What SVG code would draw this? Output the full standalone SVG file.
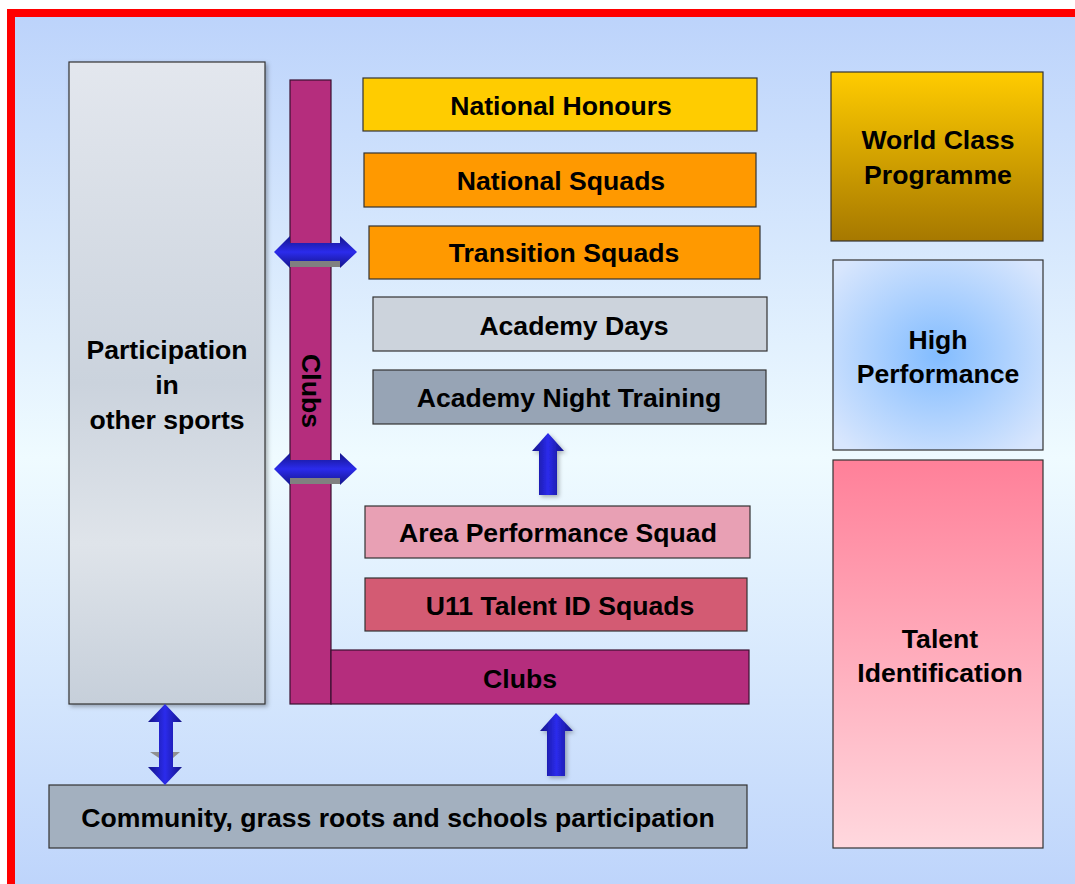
<svg xmlns="http://www.w3.org/2000/svg" width="1075" height="884" viewBox="0 0 1075 884">
<defs>
<linearGradient id="bg" x1="0" y1="0" x2="0" y2="1">
<stop offset="0" stop-color="#bcd3fb"/><stop offset="0.5" stop-color="#effbff"/><stop offset="1" stop-color="#bcd3fb"/>
</linearGradient>
<linearGradient id="part" x1="0" y1="0" x2="0" y2="1">
<stop offset="0" stop-color="#e3e7ee"/><stop offset="0.5" stop-color="#cbd3dd"/><stop offset="0.75" stop-color="#dfe4ea"/><stop offset="1" stop-color="#c6cfda"/>
</linearGradient>
<linearGradient id="wcp" x1="0" y1="0" x2="0" y2="1">
<stop offset="0" stop-color="#ffcc00"/><stop offset="1" stop-color="#a67800"/>
</linearGradient>
<radialGradient id="hp" cx="0.5" cy="0.5" r="0.65">
<stop offset="0" stop-color="#82bcff"/><stop offset="1" stop-color="#d8e6fd"/>
</radialGradient>
<linearGradient id="ti" x1="0" y1="0" x2="0" y2="1">
<stop offset="0" stop-color="#ff8099"/><stop offset="1" stop-color="#ffd8de"/>
</linearGradient>
<linearGradient id="arrH" x1="0" y1="0" x2="0" y2="1">
<stop offset="0" stop-color="#141488"/><stop offset="0.5" stop-color="#2b2bec"/><stop offset="1" stop-color="#141488"/>
</linearGradient>
<linearGradient id="arrV" x1="0" y1="0" x2="1" y2="0">
<stop offset="0" stop-color="#141488"/><stop offset="0.5" stop-color="#2b2bec"/><stop offset="1" stop-color="#141488"/>
</linearGradient>
<filter id="sh" x="-10%" y="-10%" width="130%" height="130%">
<feDropShadow dx="2" dy="2" stdDeviation="2" flood-color="#000" flood-opacity="0.3"/>
</filter>
</defs>
<style>
.box{stroke:#333;stroke-width:1.2}
.t{font-family:"Liberation Sans",Arial,sans-serif;font-weight:bold;font-size:26.6px;fill:#000;text-anchor:middle}
.club{fill:#b52d7d;stroke:#3a1030;stroke-width:1.2}
</style>
<rect x="0" y="0" width="1075" height="884" fill="#fff"/>
<rect x="11" y="13" width="1080" height="890" fill="url(#bg)" stroke="#ff0000" stroke-width="8"/>

<g id="participation">
<rect class="box" x="69" y="62" width="196" height="642" fill="url(#part)" stroke="#555" stroke-width="2" filter="url(#sh)"/>
<text class="t" x="167" y="359">Participation</text>
<text class="t" x="167" y="394">in</text>
<text class="t" x="167" y="429">other sports</text>
</g>

<g id="clubs-vertical">
<rect class="club" x="290" y="80" width="41" height="624"/>
<text class="t" transform="translate(302,391) rotate(90)">Clubs</text>
</g>
<g id="clubs-horizontal">
<rect class="club" x="331" y="650" width="418" height="54"/>
<text class="t" x="520" y="688">Clubs</text>
</g>

<g id="national-honours">
<rect class="box" x="363" y="78" width="394" height="53" fill="#ffcc00"/>
<text class="t" x="561" y="115">National Honours</text>
</g>
<g id="national-squads">
<rect class="box" x="364" y="153" width="392" height="54" fill="#ff9900"/>
<text class="t" x="561" y="190">National Squads</text>
</g>
<g id="transition-squads">
<rect class="box" x="369" y="226" width="391" height="53" fill="#ff9900"/>
<text class="t" x="564" y="262">Transition Squads</text>
</g>
<g id="academy-days">
<rect class="box" x="373" y="297" width="394" height="54" fill="#ccd3dc"/>
<text class="t" x="574" y="335">Academy Days</text>
</g>
<g id="academy-night">
<rect class="box" x="373" y="370" width="393" height="54" fill="#97a4b5"/>
<text class="t" x="569" y="407">Academy Night Training</text>
</g>
<g id="area-performance">
<rect class="box" x="365" y="506" width="385" height="52" fill="#e8a0b4"/>
<text class="t" x="558" y="542">Area Performance Squad</text>
</g>
<g id="u11-talent">
<rect class="box" x="365" y="578" width="382" height="53" fill="#d35b73"/>
<text class="t" x="560" y="615">U11 Talent ID Squads</text>
</g>

<g id="world-class">
<rect class="box" x="831" y="72" width="212" height="169" fill="url(#wcp)"/>
<text class="t" x="938" y="149">World Class</text>
<text class="t" x="938" y="184">Programme</text>
</g>
<g id="high-performance">
<rect class="box" x="833" y="260" width="210" height="190" fill="url(#hp)"/>
<text class="t" x="938" y="349">High</text>
<text class="t" x="938" y="383">Performance</text>
</g>
<g id="talent-identification">
<rect class="box" x="833" y="460" width="210" height="388" fill="url(#ti)"/>
<text class="t" x="940" y="648">Talent</text>
<text class="t" x="940" y="682">Identification</text>
</g>

<g id="community">
<rect class="box" x="49" y="785" width="698" height="63" fill="#a3b0bf"/>
<text class="t" x="398" y="827">Community, grass roots and schools participation</text>
</g>

<g id="connectors">
<rect x="290" y="261" width="50" height="6" fill="#808080"/>
<polygon points="274,252 290,236 290,243 340,243 340,236 357,252 340,268 340,261 290,261 290,268" fill="url(#arrH)"/>
<rect x="290" y="478" width="50" height="6" fill="#808080"/>
<polygon points="274,469 290,453 290,460 340,460 340,453 357,469 340,485 340,478 290,478 290,485" fill="url(#arrH)"/>
<polygon points="150,752 180,752 173,758 159,758" fill="#909090"/>
<polygon points="165,704 182,722 173,722 173,767 182,767 165,785 148,767 159,767 159,722 148,722" fill="url(#arrV)"/>
<polygon points="548,433 564,451 557,451 557,495 539,495 539,451 532,451" fill="url(#arrV)" filter="url(#sh)"/>
<polygon points="556,713 573,731 565,731 565,776 547,776 547,731 540,731" fill="url(#arrV)" filter="url(#sh)"/>
</g>
</svg>
